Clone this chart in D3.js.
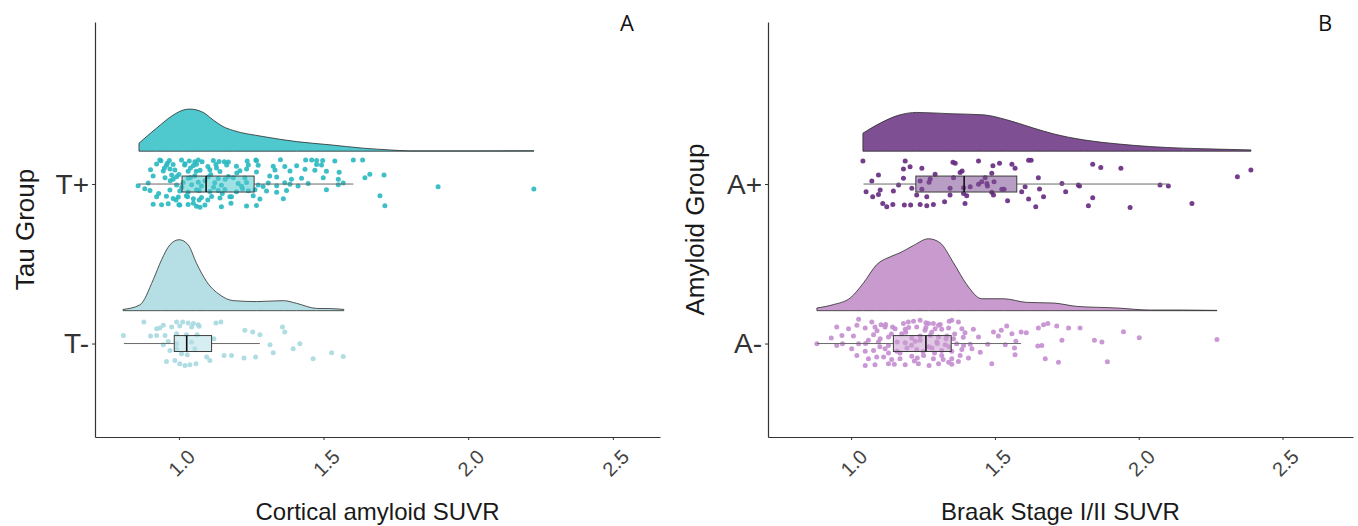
<!DOCTYPE html>
<html>
<head>
<meta charset="utf-8">
<script src="https://cdn.jsdelivr.net/npm/d3@7"></script>
<style>
body { margin: 0; background: #fff; }
svg { display: block; font-family: Arial, "Liberation Sans", sans-serif; }
</style>
</head>
<body>
<svg id="chart" width="1358" height="526"></svg>
<script>
// ---- data ----
var tauCats = ['T-', 'T+'],
	amyCats = ['A-', 'A+'],
	xTicks = [1.0, 1.5, 2.0, 2.5];

// box stats: [lower whisker, q1, median, q3, upper whisker]
var tPlusBox = [0.863, 1.011, 1.094, 1.260, 1.603],
	tMinusBox = [0.810, 0.984, 1.027, 1.113, 1.280],
	aPlusBox = [1.043, 1.225, 1.393, 1.576, 2.100],
	aMinusBox = [0.881, 1.147, 1.260, 1.348, 1.591];

// half-violin outline: [SUVR, height in group units]
var tPlusDens = [[0.862,0.050],[0.923,0.145],[0.980,0.226],[1.015,0.258],[1.038,0.264],[1.084,0.243],
	[1.119,0.195],[1.152,0.155],[1.188,0.130],[1.291,0.092],[1.407,0.060],[1.522,0.040],[1.636,0.019],
	[1.729,0.008],[1.798,0.002],[2.006,0.002],[2.227,0.003]];
var tMinusDens = [[0.807,0.008],[0.865,0.036],[0.911,0.193],[0.940,0.319],[0.969,0.413],[1.001,0.445],
	[1.032,0.413],[1.061,0.297],[1.096,0.182],[1.142,0.099],[1.188,0.063],[1.269,0.057],[1.361,0.063],
	[1.407,0.046],[1.476,0.014],[1.522,0.013],[1.570,0.008]];
var aPlusDens = [[1.041,0.113],[1.101,0.176],[1.170,0.228],[1.228,0.243],[1.344,0.235],[1.460,0.228],
	[1.541,0.197],[1.634,0.145],[1.703,0.109],[1.808,0.071],[1.924,0.046],[2.040,0.029],[2.155,0.019],
	[2.272,0.013],[2.390,0.008]];
var aMinusDens = [[0.881,0.017],[0.938,0.038],[0.997,0.080],[1.043,0.174],[1.089,0.289],[1.136,0.338],
	[1.170,0.363],[1.217,0.409],[1.269,0.451],[1.309,0.426],[1.356,0.300],[1.402,0.164],[1.454,0.075],
	[1.530,0.075],[1.611,0.052],[1.703,0.048],[1.785,0.027],[1.924,0.017],[2.040,0.004],[2.155,0.004],
	[2.272,0.002]];

// points: [SUVR, jitter in group units]
var tPlusPts = [[0.934,0.150],[0.938,0.146],[0.967,0.148],[1.009,0.150],[1.036,0.144],[1.055,0.140],[1.067,0.150],
	[1.119,0.148],[1.139,0.142],[1.157,0.140],[1.171,0.138],[1.236,0.144],[1.266,0.150],[1.268,0.146],[1.351,0.152],
	[1.438,0.150],[1.459,0.150],[1.476,0.148],[1.497,0.148],[1.539,0.144],[1.603,0.150],[1.635,0.150],
	[0.923,0.125],[0.957,0.118],[0.980,0.122],[1.021,0.128],[1.050,0.116],[1.061,0.124],[1.128,0.122],[1.165,0.120],
	[1.199,0.112],[1.274,0.118],[1.326,0.112],[1.366,0.110],[1.407,0.114],[1.476,0.122],[1.493,0.120],
	[0.902,0.090],[0.946,0.082],[0.969,0.094],[0.986,0.088],[1.032,0.080],[1.073,0.086],[1.107,0.090],[1.142,0.078],
	[1.211,0.084],[1.234,0.094],[1.268,0.076],[1.332,0.088],[1.384,0.082],[1.436,0.092],[1.470,0.086],[1.510,0.080],
	[1.554,0.074],[1.660,0.062],[1.709,0.056],
	[0.911,0.050],[0.952,0.040],[0.975,0.056],[0.992,0.046],[1.032,0.036],[1.055,0.052],[1.101,0.044],[1.136,0.034],
	[1.171,0.048],[1.188,0.040],[1.228,0.038],[1.314,0.050],[1.338,0.044],[1.389,0.030],[1.424,0.036],[1.499,0.040],
	[1.551,0.030],[1.643,0.040],
	[0.859,-0.010],[0.894,0.006],[0.992,-0.006],[1.015,0.010],[1.044,-0.004],[1.067,0.012],[1.078,-0.012],[1.124,0.008],
	[1.147,-0.008],[1.205,0.004],[1.217,-0.014],[1.234,0.010],[1.274,-0.006],[1.291,-0.016],[1.309,0.006],[1.338,-0.010],
	[1.366,0.008],[1.384,-0.002],[1.412,-0.012],[1.447,0.004],[1.551,-0.004],[1.568,0.006],[1.896,-0.017],[2.227,-0.031],
	[0.882,-0.030],[0.900,-0.040],[0.969,-0.038],[1.003,-0.044],[1.032,-0.050],[1.061,-0.036],[1.107,-0.046],[1.136,-0.040],
	[1.159,-0.034],[1.199,-0.048],[1.240,-0.042],[1.263,-0.036],[1.303,-0.044],[1.338,-0.052],[1.372,-0.040],[1.510,-0.036],
	[0.923,-0.080],[0.957,-0.076],[0.980,-0.090],[0.998,-0.082],[1.026,-0.074],[1.050,-0.092],[1.078,-0.084],[1.113,-0.078],
	[1.142,-0.088],[1.176,-0.080],[1.182,-0.080],[1.257,-0.074],[1.280,-0.094],[1.361,-0.092],[1.695,-0.074],
	[0.911,-0.126],[0.940,-0.130],[0.963,-0.124],[1.003,-0.132],[1.032,-0.128],[1.061,-0.140],[1.073,-0.146],[1.090,-0.132],
	[1.147,-0.142],[1.234,-0.138],[1.268,-0.134],[1.712,-0.136],
	[0.95,0.10],[0.97,0.02],[0.99,-0.10],[1.00,0.06],[1.01,-0.02],[1.02,0.12],[1.03,-0.08],[1.04,0.04],[1.05,-0.12],
	[1.06,0.08],[1.07,-0.04],[1.08,0.14],[1.09,0.02],[1.10,-0.10],[1.11,0.06],[1.12,-0.02],[1.13,0.10],[1.15,-0.06],
	[1.16,0.03],[1.18,-0.12],[1.20,0.07],[1.22,-0.03],[1.24,0.12],[0.93,-0.06],[0.96,0.13],[0.98,0.03],[1.00,-0.13],
	[1.04,0.10],[1.07,-0.10],[1.10,0.11]];

var tMinusPts = [[0.879,0.135],[0.992,0.135],[1.013,0.135],[1.032,0.129],[1.050,0.125],[1.067,0.118],[1.128,0.129],[1.145,0.135],
	[0.923,0.093],[0.934,0.097],[0.946,0.114],[0.975,0.104],[1.003,0.110],[1.044,0.104],[1.070,0.108],[1.228,0.083],
	[1.255,0.072],[1.280,0.055],[1.358,0.104],[1.366,0.072],
	[0.808,0.051],[0.902,0.047],[0.923,0.051],[0.952,0.051],[0.992,0.062],[1.026,0.055],[1.063,0.055],[1.121,0.030],
	[0.946,-0.007],[0.963,0.013],[0.992,-0.001],[1.044,0.009],[1.315,-0.007],[1.395,-0.033],[1.418,-0.001],
	[0.969,-0.043],[0.992,-0.033],[1.009,-0.064],[1.029,-0.070],[1.055,-0.033],[1.096,-0.085],[1.156,-0.075],[1.182,-0.075],
	[1.225,-0.091],[1.265,-0.085],[1.326,-0.058],
	[0.957,-0.112],[0.986,-0.106],[1.003,-0.127],[1.021,-0.137],[1.038,-0.133],[1.059,-0.127],[1.107,-0.106],[1.464,-0.096],
	[1.528,-0.058],[1.568,-0.081]];

var aPlusPts = [[1.041,0.145],[1.188,0.145],[1.354,0.136],[1.362,0.130],[1.443,0.145],[1.516,0.130],[1.559,0.124],[1.617,0.149],
	[1.626,0.149],[1.493,0.115],
	[1.182,0.094],[1.205,0.109],[1.246,0.099],[1.379,0.073],[1.386,0.082],[1.489,0.067],[1.570,0.099],[1.840,0.124],
	[1.868,0.103],[1.938,0.099],[2.390,0.088],
	[1.095,0.057],[1.072,0.019],[1.182,0.036],[1.292,0.061],[1.275,0.031],[1.271,0.011],[1.356,0.040],[1.466,0.040],
	[1.454,0.015],[1.651,0.040],[2.343,0.046],
	[1.165,-0.006],[1.211,-0.027],[1.240,0.019],[1.246,-0.033],[1.344,-0.027],[1.391,-0.023],[1.414,-0.017],[1.443,-0.002],
	[1.472,0.004],[1.497,0.015],[1.474,-0.012],[1.524,-0.033],[1.532,-0.033],[1.605,-0.017],[1.655,-0.031],[1.733,0.004],
	[1.790,-0.006],[1.794,-0.012],[2.074,-0.006],[2.103,-0.012],
	[1.052,-0.048],[1.101,-0.038],[1.095,-0.065],[1.147,-0.044],[1.075,-0.080],[1.228,-0.069],[1.263,-0.080],[1.344,-0.069],
	[1.391,-0.059],[1.402,-0.073],[1.489,-0.052],[1.495,-0.069],[1.593,-0.048],[1.669,-0.080],[1.746,-0.048],[1.840,-0.086],
	[1.110,-0.122],[1.124,-0.142],[1.145,-0.128],[1.185,-0.132],[1.207,-0.132],[1.240,-0.128],[1.263,-0.136],[1.286,-0.128],
	[1.325,-0.111],[1.396,-0.122],[1.544,-0.105],[1.617,-0.094],[1.642,-0.142],[1.825,-0.136],[1.970,-0.147],[2.185,-0.122]];

var aMinusPts = [[1.026,0.152],[1.072,0.135],[1.104,0.118],[1.144,0.104],[1.182,0.125],[1.199,0.135],[1.217,0.139],[1.240,0.146],
	[1.269,0.125],[1.286,0.125],[1.304,0.114],[1.341,0.139],[1.350,0.146],[1.373,0.135],
	[0.950,0.104],[0.991,0.093],[1.020,0.114],[1.049,0.097],[1.083,0.104],[1.118,0.104],[1.153,0.093],[1.188,0.089],
	[1.228,0.104],[1.257,0.083],[1.292,0.093],[1.315,0.089],[1.339,0.097],[1.385,0.093],[1.425,0.089],[1.495,0.072],
	[1.522,0.083],[1.541,0.110],[1.591,0.072],[1.651,0.097],[1.669,0.118],[1.684,0.125],[1.715,0.110],[1.756,0.097],[1.796,0.097],
	[0.931,0.034],[0.968,0.051],[1.008,0.047],[1.078,0.055],[1.101,0.030],[1.130,0.041],[1.176,0.062],[1.211,0.034],
	[1.240,0.047],[1.275,0.051],[1.304,0.041],[1.333,0.047],[1.356,0.030],[1.396,0.068],[1.443,0.041],[1.512,0.047],
	[1.559,0.062],[1.609,0.068],[1.733,0.020],[1.846,0.020],[1.872,0.009],
	[0.881,-0.001],[0.950,-0.012],[0.970,-0.001],[1.026,-0.001],[1.095,0.009],[1.130,-0.012],[1.188,0.005],[1.223,0.014],
	[1.298,0.009],[1.327,-0.007],[1.367,-0.001],[1.391,-0.012],[1.414,-0.005],[1.475,-0.005],[1.536,-0.007],[1.573,0.014],
	[1.649,-0.016],[1.947,0.074],[2.002,0.036],[2.272,0.026],
	[1.002,-0.033],[1.049,-0.049],[1.078,-0.043],[1.118,-0.033],[1.159,-0.049],[1.194,-0.028],[1.228,-0.037],[1.281,-0.028],
	[1.315,-0.043],[1.350,-0.049],[1.385,-0.037],[1.420,-0.033],[1.449,-0.054],[1.568,-0.028],[1.663,-0.012],
	[1.020,-0.075],[1.060,-0.096],[1.089,-0.085],[1.113,-0.085],[1.141,-0.100],[1.170,-0.096],[1.211,-0.079],[1.252,-0.075],
	[1.286,-0.096],[1.315,-0.075],[1.350,-0.096],[1.379,-0.075],[1.408,-0.091],[1.570,-0.070],[1.675,-0.096],[1.891,-0.114],
	[1.049,-0.137],[1.083,-0.133],[1.130,-0.127],[1.188,-0.133],[1.234,-0.127],[1.271,-0.137],[1.304,-0.127],[1.339,-0.117],
	[1.373,-0.112],[1.489,-0.127],[1.721,-0.117],
	[1.06,0.02],[1.10,-0.02],[1.14,0.06],[1.16,0.01],[1.17,-0.06],[1.19,0.07],[1.21,-0.01],[1.22,-0.11],[1.24,0.02],
	[1.25,-0.05],[1.26,0.10],[1.27,-0.02],[1.28,0.07],[1.29,-0.06],[1.30,0.00],[1.31,0.12],[1.32,-0.10],[1.33,0.03],
	[1.34,-0.02],[1.36,0.06],[1.12,0.12],[1.15,-0.13],[1.05,0.00],[1.09,0.08],[1.13,-0.06],[1.20,0.10],[1.23,-0.09],
	[1.26,0.13],[1.35,-0.13],[1.39,0.04]];

// ---- layout ----
var svg = d3.select('#chart');
var plotTop = 22, plotBottom = 437;
var densOffset = 0.206,  // violin baseline above group centre
	boxHalf = 0.05;

var panels = [
	{
		letter: 'A', letterX: 627, cats: tauCats,
		xDomain: [0.710, 2.663], xRange: [95, 660],
		yTitle: 'Tau Group', yTitleX: 34,
		xTitle: 'Cortical amyloid SUVR',
		groups: [
			{box: tMinusBox, dens: tMinusDens, pts: tMinusPts, dens_c: '#b5dfe5', pt_c: '#a6d9e0', box_c: '#b5dfe5'},
			{box: tPlusBox, dens: tPlusDens, pts: tPlusPts, dens_c: '#4fc8ce', pt_c: '#27b8c0', box_c: '#4fc8ce'}
		]
	},
	{
		letter: 'B', letterX: 1325, cats: amyCats,
		xDomain: [0.711, 2.745], xRange: [768, 1353],
		yTitle: 'Amyloid Group', yTitleX: 704,
		xTitle: 'Braak Stage I/II SUVR',
		groups: [
			{box: aMinusBox, dens: aMinusDens, pts: aMinusPts, dens_c: '#c99acd', pt_c: '#c48dcf', box_c: '#c99acd'},
			{box: aPlusBox, dens: aPlusDens, pts: aPlusPts, dens_c: '#7e4f93', pt_c: '#65297f', box_c: '#7e4f93'}
		]
	}
];

var drawPanel = function(p) {
	var g = svg.append('g');
	var x = d3.scaleLinear().domain(p.xDomain).range(p.xRange),
		y = d3.scaleLinear().domain([0.414, 3.016]).range([plotBottom, plotTop]);

	p.groups.forEach(function(gr, i) {
		var c = i + 1;
		var area = d3.area()
			.curve(d3.curveMonotoneX)
			.x(function(d) { return x(d[0]); })
			.y0(y(c + densOffset))
			.y1(function(d) { return y(c + densOffset + d[1]); });

		g.append('path').datum(gr.dens)
			.attr('d', area)
			.attr('fill', gr.dens_c)
			.attr('stroke', '#2b2b2b')
			.attr('stroke-width', 0.8);

		g.append('g').selectAll('circle').data(gr.pts).enter().append('circle')
			.attr('cx', function(d) { return x(d[0]); })
			.attr('cy', function(d) { return y(c + d[1]); })
			.attr('r', 2.5)
			.attr('fill', gr.pt_c)
			.attr('fill-opacity', 0.9);

		var b = gr.box;
		g.append('line')
			.attr('x1', x(b[0])).attr('x2', x(b[1]))
			.attr('y1', y(c)).attr('y2', y(c))
			.attr('stroke', '#6a6a6a').attr('stroke-width', 1);
		g.append('line')
			.attr('x1', x(b[3])).attr('x2', x(b[4]))
			.attr('y1', y(c)).attr('y2', y(c))
			.attr('stroke', '#6a6a6a').attr('stroke-width', 1);
		g.append('rect')
			.attr('x', x(b[1])).attr('width', x(b[3]) - x(b[1]))
			.attr('y', y(c + boxHalf)).attr('height', y(c - boxHalf) - y(c + boxHalf))
			.attr('fill', gr.box_c).attr('fill-opacity', 0.55)
			.attr('stroke', '#3d3d3d').attr('stroke-width', 1);
		g.append('line')
			.attr('x1', x(b[2])).attr('x2', x(b[2]))
			.attr('y1', y(c + boxHalf)).attr('y2', y(c - boxHalf))
			.attr('stroke', '#111').attr('stroke-width', 1.6);
	});

	// x axis
	var xa = g.append('g')
		.attr('transform', 'translate(0,' + plotBottom + ')')
		.call(d3.axisBottom(x).tickValues(xTicks).tickFormat(d3.format('.1f')).tickSize(3).tickSizeOuter(0));
	xa.select('.domain').attr('stroke', '#333').attr('stroke-width', 1.2);
	xa.selectAll('.tick line').attr('stroke', '#333');
	xa.selectAll('.tick text')
		.attr('x', 0).attr('y', 0).attr('dy', '0.71em')
		.attr('text-anchor', 'end')
		.attr('transform', 'translate(7,11) rotate(-45)')
		.style('font-size', '20px').attr('fill', '#444')
		.attr('font-family', 'Arial, "Liberation Sans", sans-serif');

	// y axis
	var ya = g.append('g')
		.attr('transform', 'translate(' + p.xRange[0] + ',0)')
		.call(d3.axisLeft(y).tickValues([1, 2]).tickFormat(function(d) { return p.cats[d - 1]; })
			.tickSize(3).tickPadding(3).tickSizeOuter(0));
	ya.select('.domain').attr('stroke', '#333').attr('stroke-width', 1.2);
	ya.selectAll('.tick line').attr('stroke', '#333');
	ya.selectAll('.tick text')
		.style('font-size', '28px').attr('fill', '#333')
		.attr('font-family', 'Arial, "Liberation Sans", sans-serif');

	// titles
	g.append('text')
		.attr('x', (p.xRange[0] + p.xRange[1]) / 2).attr('y', 520)
		.attr('text-anchor', 'middle').style('font-size', '24px').attr('fill', '#1a1a1a')
		.text(p.xTitle);
	g.append('text')
		.attr('transform', 'translate(' + p.yTitleX + ',' + ((plotTop + plotBottom) / 2) + ') rotate(-90)')
		.attr('text-anchor', 'middle').style('font-size', '26px').attr('fill', '#1a1a1a')
		.text(p.yTitle);
	g.append('text')
		.attr('x', p.letterX).attr('y', 31)
		.attr('text-anchor', 'middle').style('font-size', '22px').attr('fill', '#111')
		.attr('font-family', '"Open Sans", Lato, sans-serif')
		.text(p.letter);
};

panels.forEach(drawPanel);
</script>
</body>
</html>
